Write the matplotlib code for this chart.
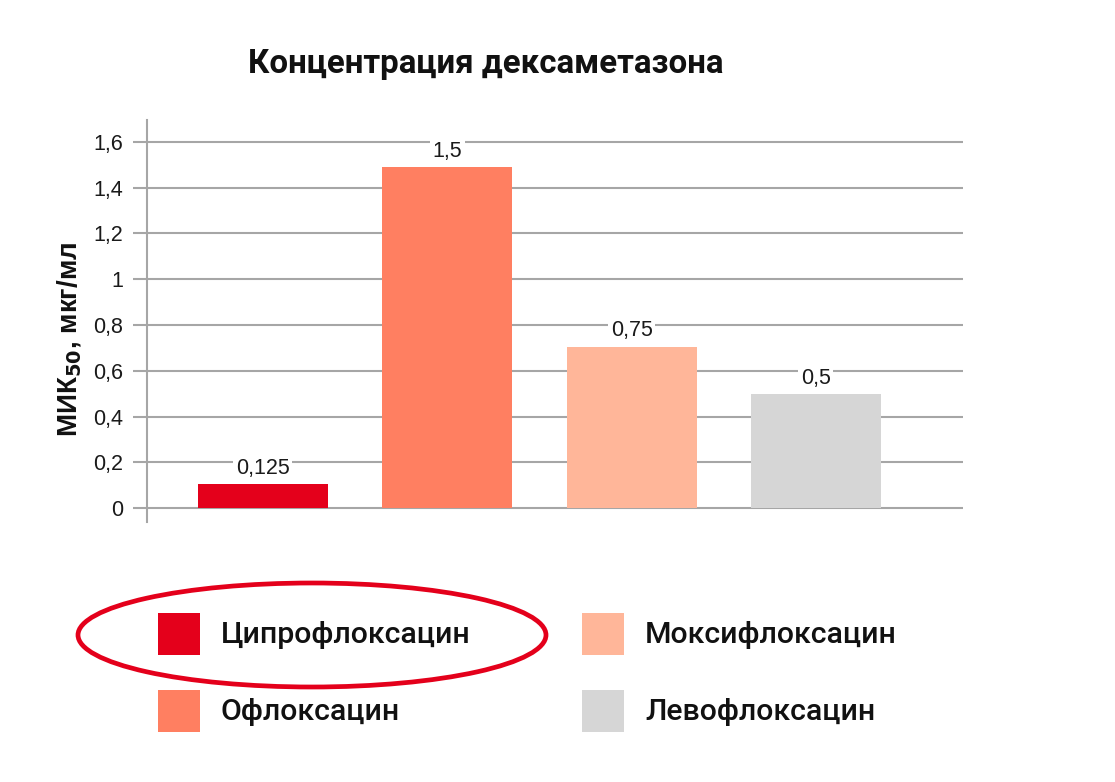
import matplotlib
matplotlib.use("Agg")
import matplotlib.pyplot as plt
from matplotlib.patches import Rectangle, Ellipse

# data
drugs = ["Ципрофлоксацин", "Офлоксацин", "Моксифлоксацин", "Левофлоксацин"]
bar_heights = [0.105, 1.49, 0.705, 0.498]
value_labels = ["0,125", "1,5", "0,75", "0,5"]
colors = ["#E4001B", "#FF7F61", "#FFB699", "#D6D6D6"]
yticks = [0, 0.2, 0.4, 0.6, 0.8, 1.0, 1.2, 1.4, 1.6]
ytick_labels = ["0", "0,2", "0,4", "0,6", "0,8", "1", "1,2", "1,4", "1,6"]

W, H = 1115, 782
fig = plt.figure(figsize=(W / 100, H / 100), dpi=100)
fig.patch.set_facecolor("white")

num_font = ["Liberation Sans", "DejaVu Sans"]


def px(x, y):
    # pixel position (from top-left) -> figure fraction
    return x / W, 1 - y / H


# axes placed so the spine is at x=147 and y runs 120..522 px
ax = fig.add_axes([147 / W, 1 - 522 / H, (963 - 147) / W, (522 - 120) / H])
grid_col = "#A6A6A6"

x = list(range(len(drugs)))
ax.bar(x, bar_heights, width=0.705, color=colors, zorder=2)
ax.set_xlim(-0.629, 3.798)
ax.set_ylim(-0.061, 1.696)

ax.set_yticks(yticks)
ax.set_yticklabels(ytick_labels, family=num_font, fontsize=15.5, color="#1a1a1a")
ax.tick_params(axis="y", length=10, width=1.5, color=grid_col, pad=7)
ax.set_xticks([])
ax.yaxis.grid(True, color=grid_col, linewidth=1.5, zorder=0)
ax.set_axisbelow(True)
for side in ["top", "right", "bottom"]:
    ax.spines[side].set_visible(False)
ax.spines["left"].set_color(grid_col)
ax.spines["left"].set_linewidth(1.5)

for xi, h, lab in zip(x, bar_heights, value_labels):
    ax.annotate(lab, (xi, h), xytext=(0, 11.5), textcoords="offset points",
                ha="center", va="center", fontsize=15.5, color="#1a1a1a",
                family=num_font,
                bbox=dict(boxstyle="square,pad=0.12", fc="white", ec="none"), zorder=3)

# title
tx, ty = px(486, 64)
fig.text(tx, ty, "Концентрация дексаметазона", ha="center", va="center",
         fontsize=23.8, fontweight="bold", family=["Roboto", "DejaVu Sans"], color="#111111")

# y label
plt.rcParams["mathtext.default"] = "bf"
lx, ly = px(70, 339)
fig.text(lx, ly, "МИК$_{50}$, мкг/мл", rotation=90, ha="center", va="center",
         fontsize=20, fontweight="bold", family=["Liberation Sans", "DejaVu Sans"], color="#111111")

# legend drawn by hand, two columns
leg_pos = [(158, 613), (158, 690), (582, 613), (582, 690)]
for (lx0, ly0), name, c in zip(leg_pos, drugs, colors):
    fx, fy = px(lx0, ly0 + 42)
    fig.patches.append(Rectangle((fx, fy), 42 / W, 42 / H, transform=fig.transFigure,
                                 facecolor=c, edgecolor="none"))
    t_x, t_y = px(lx0 + 63, ly0 + 22)
    fig.text(t_x, t_y, name, ha="left", va="center", fontsize=21.8, fontweight="medium",
             family=["Roboto", "DejaVu Sans"], color="#111111")

# red ring around the ciprofloxacin entry
ex, ey = px(312, 635)
fig.patches.append(Ellipse((ex, ey), 468 / W, 104 / H, transform=fig.transFigure,
                           facecolor="none", edgecolor="#E4001B", linewidth=3.4))

fig.savefig("out.png", dpi=100, facecolor="white")
